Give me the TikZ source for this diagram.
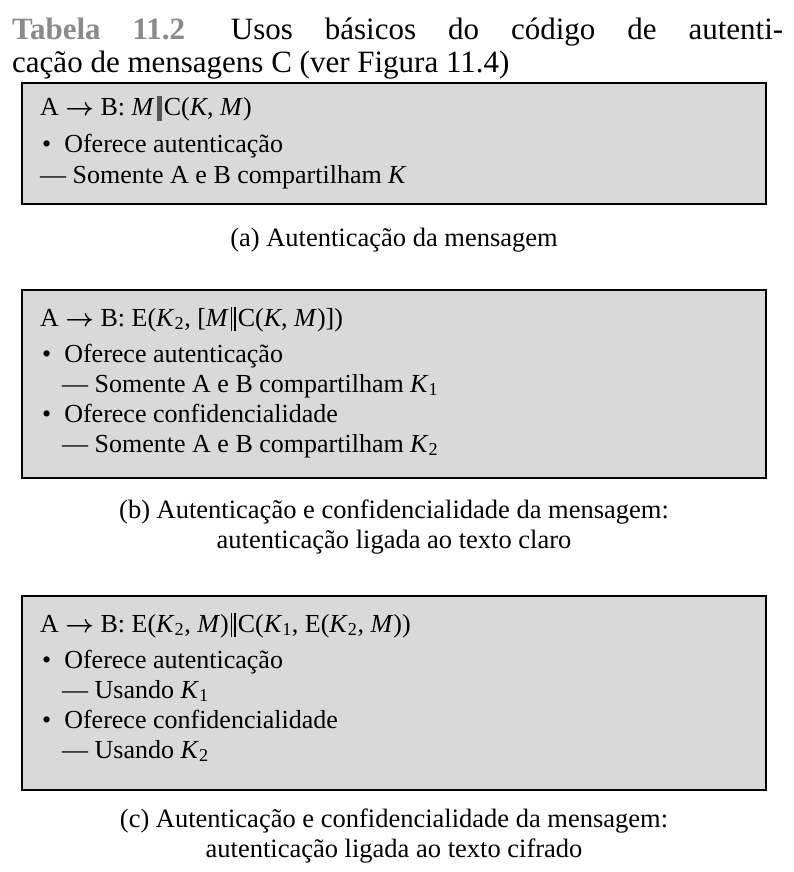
\documentclass[tikz,border=0pt]{standalone}
\usepackage{fontspec}
\setmainfont{Liberation Serif}
\definecolor{panelgray}{HTML}{D9D9D9}
\definecolor{titlegray}{HTML}{8A8A8A}
\definecolor{bargray}{HTML}{555555}
% concatenation bars
\newcommand{\dbar}{\kern0.08em\rule[-0.2em]{0.06em}{0.95em}\kern0.07em\rule[-0.2em]{0.06em}{0.95em}\kern0.08em}
\newcommand{\thickbar}{\kern0.08em{\color{bargray}\rule[-0.2em]{0.2em}{0.95em}}\kern0.08em}
\newcommand{\ki}[1]{\textit{K}\textsubscript{#1}}
\newcommand{\AtoB}{A $\boldsymbol{\rightarrow}$ B:}
\tikzset{
  panel/.style={draw=black, line width=2.6pt, fill=panelgray, anchor=north west,
    minimum width=744pt, inner sep=0pt, outer sep=0pt},
  bodyline/.style={anchor=base west, inner sep=0pt, font=\fontsize{26}{30}\selectfont},
  captionline/.style={anchor=base, inner sep=0pt, font=\fontsize{26.5}{30}\selectfont},
}
\usepackage{amsmath}
\begin{document}
\begin{tikzpicture}[x=1pt,y=-1pt]
\useasboundingbox (0,0) rectangle (793,872);
\fill[white] (0,0) rectangle (793,872);

% title
\node[anchor=base west, inner sep=0pt, text width=771pt, align=justify,
      font=\fontsize{31}{33}\selectfont] (title) at (12,40)
  {{\color{titlegray}\bfseries Tabela 11.2}\hspace{0.45em} Usos básicos do código de autenti-\linebreak
   cação de mensagens C (ver Figura 11.4)};

% (a) message authentication
\node[panel, minimum height=121pt] (pa) at (22,83) {};
\node[bodyline] (a1) at (40,116) {\AtoB{} \textit{M}\thickbar C(\textit{K}, \textit{M})};
\node[bodyline] (a2) at (42,152) {•\enspace Oferece autenticação};
\node[bodyline] (a3) at (40,183) {— Somente A e B compartilham \textit{K}};
\node[captionline] (capa) at (394,246) {(a) Autenticação da mensagem};

% (b) authentication and confidentiality, tied to plaintext
\node[panel, minimum height=188pt] (pb) at (22,290) {};
\node[bodyline] (b1) at (40,326) {\AtoB{} E(\ki{2}, [\textit{M}\dbar C(\textit{K}, \textit{M})])};
\node[bodyline] (b2) at (42,362) {•\enspace Oferece autenticação};
\node[bodyline] (b3) at (62,392) {— Somente A e B compartilham \ki{1}};
\node[bodyline] (b4) at (42,422) {•\enspace Oferece confidencialidade};
\node[bodyline] (b5) at (62,452) {— Somente A e B compartilham \ki{2}};
\node[captionline] (capb1) at (394,518) {(b) Autenticação e confidencialidade da mensagem:};
\node[captionline] (capb2) at (394,548) {autenticação ligada ao texto claro};

% (c) authentication and confidentiality, tied to ciphertext
\node[panel, minimum height=194pt] (pc) at (22,596) {};
\node[bodyline] (c1) at (40,632) {\AtoB{} E(\ki{2}, \textit{M})\dbar C(\ki{1}, E(\ki{2}, \textit{M}))};
\node[bodyline] (c2) at (42,668) {•\enspace Oferece autenticação};
\node[bodyline] (c3) at (62,698) {— Usando \ki{1}};
\node[bodyline] (c4) at (42,728) {•\enspace Oferece confidencialidade};
\node[bodyline] (c5) at (62,758) {— Usando \ki{2}};
\node[captionline] (capc1) at (394,827) {(c) Autenticação e confidencialidade da mensagem:};
\node[captionline] (capc2) at (394,857) {autenticação ligada ao texto cifrado};
\end{tikzpicture}
\end{document}
